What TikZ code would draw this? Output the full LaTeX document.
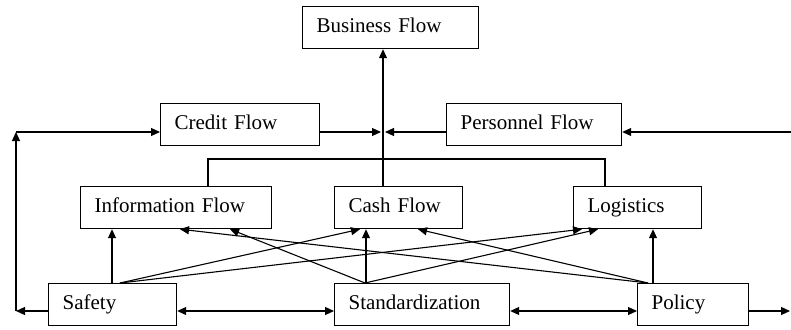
\documentclass[tikz,border=0pt]{standalone}
\usepackage{fontspec}
\setmainfont{Liberation Serif}
\usetikzlibrary{arrows.meta,calc}
\tikzset{
  fbox/.style={draw=black, line width=1.2pt, inner xsep=14pt, inner ysep=0pt,
    minimum height=42pt, text height=14.5pt, text depth=4.5pt, align=left, anchor=north west,
    font=\fontsize{21}{25}\selectfont},
  conn/.style={line width=1.1pt, draw=black},
  arr/.style={conn, -{Triangle[length=9pt,width=8pt]}},
  darr/.style={conn, {Triangle[length=9pt,width=8pt]}-{Triangle[length=9pt,width=8pt]}}
}
\begin{document}
\begin{tikzpicture}[x=1pt,y=-1pt]
\useasboundingbox[fill=white] (0,0) rectangle (791,329);
% nodes
\node[fbox, text width=148pt] (busi) at (302,6) {Business Flow};
\node[fbox, text width=131pt] (credit) at (160,103) {Credit Flow};
\node[fbox, text width=147pt] (pers) at (446,103) {Personnel Flow};
\node[fbox, text width=163pt] (info) at (80,186) {Information Flow};
\node[fbox, text width=100pt] (cash) at (334,186) {Cash Flow};
\node[fbox, text width=100pt] (logi) at (573,186) {Logistics};
\node[fbox, text width=100pt] (safety) at (48,283) {Safety};
\node[fbox, text width=147pt] (std) at (334,283) {Standardization};
\node[fbox, text width=83pt] (policy) at (637,283) {Policy};
% helper coordinates
\coordinate (j) at (383,132);
\coordinate (lt) at (16,132);
\coordinate (lb) at (16,311);
\coordinate (rt) at (791,132);
\coordinate (rb) at (790,311);
\coordinate (bl) at (208,159);
\coordinate (br) at (605,159);
% top part
\draw[arr] (cash.north -| j) -- (busi.south -| j);
\draw[arr] (credit.east |- j) -- ($(j)+(-2,0)$);
\draw[arr] (pers.west |- j) -- ($(j)+(2,0)$);
\draw[arr] (rt) -- (pers.east |- rt);
\draw[conn] (bl |- info.north) -- (bl) -- (br) -- (br |- logi.north);
% left loop
\draw[arr] (safety.west |- lb) -- (lb);
\draw[arr] (lb) -- (lt);
\draw[arr] (lt) -- (credit.west |- lt);
% bottom row
\draw[darr] (safety.east |- lb) -- (std.west |- lb);
\draw[darr] (std.east |- lb) -- (policy.west |- lb);
\draw[arr] (policy.east |- rb) -- (rb);
% verticals
\draw[arr] ($(safety.north west)+(64,0)$) -- ($(info.south west)+(32,0)$);
\draw[arr] ($(std.north west)+(32,0)$) -- ($(cash.south west)+(32,0)$);
\draw[arr] ($(policy.north west)+(16,0)$) -- ($(logi.south west)+(80,0)$);
% diagonals from Safety
\draw[arr] ($(safety.north west)+(72,0)$) -- ($(cash.south west)+(26,0)$);
\draw[arr] ($(safety.north west)+(72,0)$) -- ($(logi.south west)+(9,0)$);
% diagonals from Standardization
\draw[arr] ($(std.north west)+(31,0)$) -- ($(info.south west)+(150,0)$);
\draw[arr] ($(std.north west)+(31,0)$) -- ($(logi.south west)+(25,0)$);
% diagonals from Policy
\draw[arr] ($(policy.north west)+(11,0)$) -- ($(cash.south west)+(84,0)$);
\draw[arr] ($(policy.north west)+(11,0)$) -- ($(info.south west)+(100,0)$);
\end{tikzpicture}
\end{document}
